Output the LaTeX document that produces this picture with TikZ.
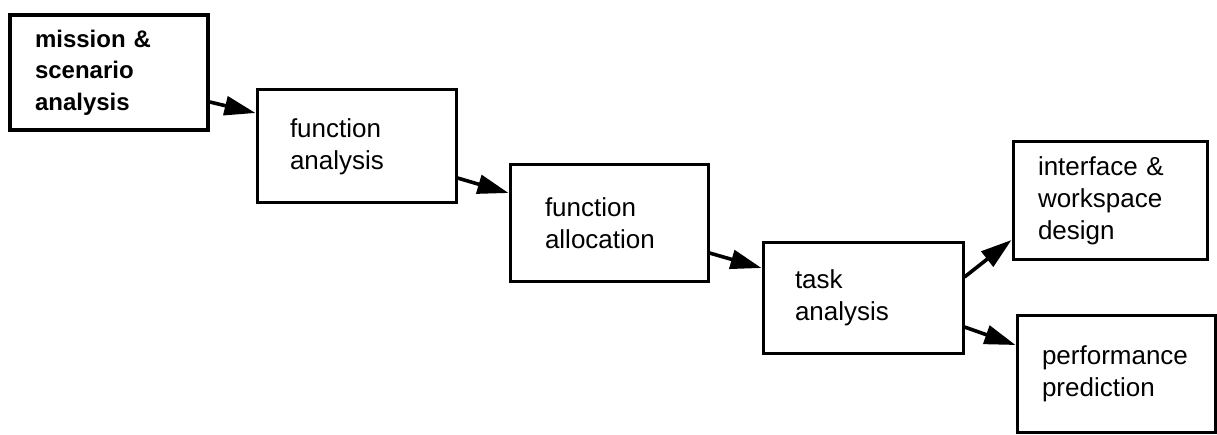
\documentclass[tikz,border=0pt]{standalone}
\usepackage{fontspec}
\setmainfont{Liberation Sans}
\usetikzlibrary{arrows.meta}
\begin{document}
\begin{tikzpicture}[x=1pt,y=-1pt,
  stagebox/.style={draw,line width=3pt,rectangle,align=left,
    font=\fontsize{26}{32}\selectfont},
  flow/.style={line width=3.6pt,-{Triangle[length=31pt,width=19pt]}}]
\useasboundingbox[fill=white] (0,0) rectangle (1217,435);

% process stages
\node[stagebox,line width=3.8pt,minimum width=198pt,minimum height=115pt,
      inner xsep=25pt,text width=148pt,font=\fontsize{24}{31.5}\selectfont\bfseries]
  (b1) at (109,72.5) {mission \&\\scenario\\analysis};
\node[stagebox,minimum width=199pt,minimum height=113pt,
      inner xsep=33pt,text width=133pt]
  (b2) at (356.5,146.5) {function\\analysis};
\node[stagebox,minimum width=198pt,minimum height=117pt,
      inner xsep=35pt,text width=128pt]
  (b3) at (609,223.5) {function\\allocation};
\node[stagebox,minimum width=200pt,minimum height=110pt,
      inner xsep=32pt,text width=136pt]
  (b4) at (863,298) {task\\analysis};
\node[stagebox,minimum width=194pt,minimum height=118pt,
      inner xsep=25pt,text width=144pt]
  (b5) at (1110,201) {interface \&\\workspace\\design};
\node[stagebox,minimum width=198pt,minimum height=117pt,
      inner xsep=25pt,text width=148pt]
  (b6) at (1116,374) {performance\\prediction};

% flow between stages
\draw[flow] ([yshift=-29.5pt]b1.east) -- ([yshift=33.5pt]b2.west);
\draw[flow] ([yshift=-31.5pt]b2.east) -- ([yshift=30.5pt]b3.west);
\draw[flow] ([yshift=-29.5pt]b3.east) -- ([yshift=30pt]b4.west);
\draw[flow] ([yshift=21pt]b4.east) -- ([yshift=-39pt]b5.west);
\draw[flow] ([yshift=-29pt]b4.east) -- ([yshift=29pt]b6.west);
\end{tikzpicture}
\end{document}
